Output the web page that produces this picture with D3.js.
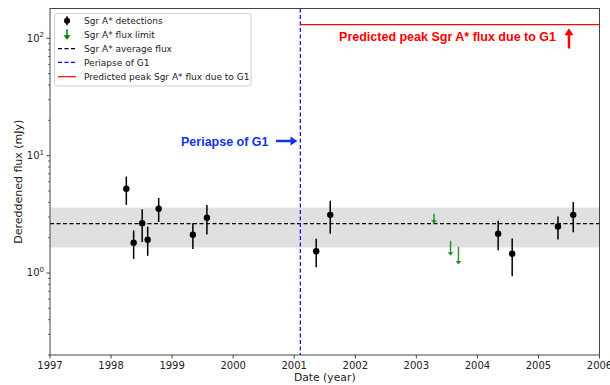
<!DOCTYPE html>
<html><head><meta charset="utf-8">
<script src="https://cdn.jsdelivr.net/npm/d3@7"></script>
<style>body{margin:0;background:#fff}svg{display:block}</style>
</head><body>
<svg id="c" width="610" height="385"></svg>
<script>
// detections
const detYear = [1998.25,1998.37,1998.51,1998.60,1998.78,1999.34,1999.57,2001.36,2001.59,2004.34,2004.57,2005.32,2005.57];
const detFlux = [5.22,1.81,2.66,1.92,3.53,2.12,2.96,1.53,3.13,2.16,1.46,2.49,3.13];
const detHi   = [6.64,2.31,3.50,2.48,4.37,2.66,3.79,1.96,4.12,2.79,1.97,3.03,4.02];
const detLo   = [3.81,1.32,1.84,1.40,2.72,1.60,2.13,1.12,2.16,1.56,0.94,1.93,2.23];
// flux limits
const limYear = [2003.29,2003.56,2003.69];
const limTop  = [3.2,1.88,1.67];
const limTip  = [2.63,1.40,1.18];
// average & band
const avgFlux = 2.64, bandLo = 1.65, bandHi = 3.61;
const periapse = 2001.1;
const peakFlux = 131;
const xTicks = [1997,1998,1999,2000,2001,2002,2003,2004,2005,2006];
const yTicks = [1,10,100];
const legendLabels = ["Sgr A* detections","Sgr A* flux limit","Sgr A* average flux","Periapse of G1","Predicted peak Sgr A* flux due to G1"];

const W=610,H=385, L=50, R=599.5, T=8.5, B=355;
const svg=d3.select("#c");
const x=d3.scaleLinear().domain([1997,2006]).range([L,R]);
const y=d3.scaleLog().domain([0.2,179.6]).range([B,T]);
const font="DejaVu Sans, sans-serif";

// band
svg.append("rect").attr("x",L).attr("width",R-L).attr("y",y(bandHi)).attr("height",y(bandLo)-y(bandHi)).attr("fill","#e0e0e0");
// avg line
svg.append("line").attr("x1",L).attr("x2",R).attr("y1",y(avgFlux)).attr("y2",y(avgFlux)).attr("stroke","#000").attr("stroke-width",1.2).attr("stroke-dasharray","4,2.5");
// periapse
svg.append("line").attr("x1",x(periapse)).attr("x2",x(periapse)).attr("y1",T).attr("y2",B).attr("stroke","#0000ff").attr("stroke-width",1.2).attr("stroke-dasharray","4,2.5");
// peak line
svg.append("line").attr("x1",x(periapse)).attr("x2",R).attr("y1",y(peakFlux)).attr("y2",y(peakFlux)).attr("stroke","#ff0000").attr("stroke-width",1.2);

// detections
const g=svg.append("g");
detYear.forEach((yr,i)=>{
  g.append("line").attr("x1",x(yr)).attr("x2",x(yr)).attr("y1",y(detHi[i])).attr("y2",y(detLo[i])).attr("stroke","#000").attr("stroke-width",1.5);
  g.append("circle").attr("cx",x(yr)).attr("cy",y(detFlux[i])).attr("r",3.2).attr("fill","#000");
});
// limits
const green="#008000";
limYear.forEach((yr,i)=>{
  const xx=x(yr), t=y(limTop[i]), b=y(limTip[i]);
  g.append("line").attr("x1",xx).attr("x2",xx).attr("y1",t).attr("y2",b-2).attr("stroke",green).attr("stroke-width",1.5).attr("opacity",0.8);
  g.append("path").attr("d",`M${xx-3},${b-3.5}L${xx+3},${b-3.5}L${xx},${b}Z`).attr("fill",green).attr("opacity",0.8);
});

// frame
svg.append("rect").attr("x",L).attr("y",T).attr("width",R-L).attr("height",B-T).attr("fill","none").attr("stroke","#444").attr("stroke-width",1);

// x axis
xTicks.forEach(t=>{
  svg.append("line").attr("x1",x(t)).attr("x2",x(t)).attr("y1",B).attr("y2",B+3.5).attr("stroke","#444");
  svg.append("text").attr("x",x(t)).attr("y",B+13.5).attr("text-anchor","middle").attr("font-family",font).attr("font-size",10).attr("fill","#222").text(t);
});
svg.append("text").attr("x",(L+R)/2).attr("y",381).attr("text-anchor","middle").attr("font-family",font).attr("font-size",10.8).attr("fill","#222").text("Date (year)");

// y axis
yTicks.forEach((t,k)=>{
  svg.append("line").attr("x1",L-3.5).attr("x2",L).attr("y1",y(t)).attr("y2",y(t)).attr("stroke","#444");
  const tx=svg.append("text").attr("x",L-6).attr("y",y(t)+3.5).attr("text-anchor","end").attr("font-family",font).attr("font-size",10).attr("fill","#222");
  tx.append("tspan").text("10");
  tx.append("tspan").attr("dy",-4.5).attr("font-size",7).text(String(Math.round(Math.log10(t))));
});
[0.1,1,10,100].forEach(d=>{
  for(let m=2;m<=9;m++){
    const v=d*m;
    if(v<0.2||v>179.6) continue;
    svg.append("line").attr("x1",L-2).attr("x2",L).attr("y1",y(v)).attr("y2",y(v)).attr("stroke","#444").attr("stroke-width",0.8);
  }
});
svg.append("text").attr("transform",`translate(21.5,${(T+B)/2}) rotate(-90)`).attr("text-anchor","middle").attr("font-family",font).attr("font-size",11).attr("fill","#222").text("Dereddened flux (mJy)");

// annotations
const bold="Liberation Sans, Arial, Helvetica, sans-serif";
svg.append("text").attr("x",556).attr("y",41).attr("text-anchor","end").attr("font-family",bold).attr("font-weight","bold").attr("font-size",12.5).attr("fill","#ff0000").text("Predicted peak Sgr A* flux due to G1");
{
  const ax=x(2005.5), a1=y(82), a2=y(122);
  svg.append("line").attr("x1",ax).attr("x2",ax).attr("y1",a1).attr("y2",a2+6).attr("stroke","#ff0000").attr("stroke-width",2.5);
  svg.append("path").attr("d",`M${ax-4.5},${a2+7}L${ax+4.5},${a2+7}L${ax},${a2}Z`).attr("fill","#ff0000");
}
const blue="#1433e8";
svg.append("text").attr("x",181).attr("y",146).attr("font-family",bold).attr("font-weight","bold").attr("font-size",12.5).attr("fill",blue).text("Periapse of G1");
{
  const yy=141, x1=276, x2=297.5;
  svg.append("line").attr("x1",x1).attr("x2",x2-6).attr("y1",yy).attr("y2",yy).attr("stroke",blue).attr("stroke-width",2.5);
  svg.append("path").attr("d",`M${x2-7},${yy-4.5}L${x2-7},${yy+4.5}L${x2},${yy}Z`).attr("fill",blue);
}

// legend
const lg=svg.append("g");
lg.append("rect").attr("x",54.5).attr("y",13.5).attr("width",196.5).attr("height",72.5).attr("rx",2.5).attr("fill","#fff").attr("fill-opacity",0.8).attr("stroke","#d0d0d0");
const ly=[20.7,34.3,48.7,62.3,76.7];
const hx1=58, hx2=76, hc=67;
// detections handle
lg.append("line").attr("x1",hc).attr("x2",hc).attr("y1",ly[0]-4.5).attr("y2",ly[0]+4.5).attr("stroke","#000").attr("stroke-width",1.5);
lg.append("circle").attr("cx",hc).attr("cy",ly[0]).attr("r",3).attr("fill","#000");
// limit handle
lg.append("line").attr("x1",hc).attr("x2",hc).attr("y1",ly[1]-5).attr("y2",ly[1]+3).attr("stroke",green).attr("stroke-width",1.5);
lg.append("path").attr("d",`M${hc-3.5},${ly[1]+1}L${hc+3.5},${ly[1]+1}L${hc},${ly[1]+5.5}Z`).attr("fill",green);
lg.append("line").attr("x1",hx1).attr("x2",hx2).attr("y1",ly[2]).attr("y2",ly[2]).attr("stroke","#000").attr("stroke-width",1.2).attr("stroke-dasharray","4,2.5");
lg.append("line").attr("x1",hx1).attr("x2",hx2).attr("y1",ly[3]).attr("y2",ly[3]).attr("stroke","#0000ff").attr("stroke-width",1.2).attr("stroke-dasharray","4,2.5");
lg.append("line").attr("x1",hx1).attr("x2",hx2).attr("y1",ly[4]).attr("y2",ly[4]).attr("stroke","#ff0000").attr("stroke-width",1.2);
legendLabels.forEach((s,i)=>{
  lg.append("text").attr("x",84).attr("y",ly[i]+3.3).attr("font-family",font).attr("font-size",9).attr("fill","#222").text(s);
});
</script>
</body></html>
